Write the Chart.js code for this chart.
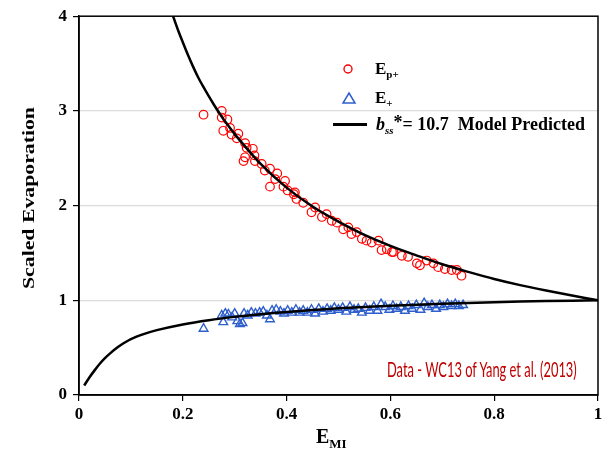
<!DOCTYPE html>
<html>
<head>
<meta charset="utf-8">
<script src="https://cdn.jsdelivr.net/npm/chart.js@4/dist/chart.umd.min.js"></script>
<style>
  html, body { margin: 0; padding: 0; background: #fff; }
  #wrap { position: relative; width: 609px; height: 458px; overflow: hidden; }
  canvas { position: absolute; left: 0; top: 0; }
  .serif { font-family: "Liberation Serif", "DejaVu Serif", serif; font-weight: bold; color: #000; }
  .abs { position: absolute; white-space: nowrap; }
</style>
</head>
<body>
<div id="wrap">
  <canvas id="c" width="609" height="458"></canvas>
  <div class="abs serif" id="ytitle" style="left:29px; top:198px; font-size:17px; transform: translate(-50%,-50%) rotate(-90deg) scaleX(1.28);">Scaled Evaporation</div>
  <div class="abs serif" style="left:316px; top:425px; font-size:20px;">E<span style="font-size:13px; position:relative; top:5px;">MI</span></div>
  <div class="abs serif" style="left:341px; top:59px; font-size:17px; line-height:20px;">
    <svg width="14" height="14" style="position:absolute; left:0px; top:3px;"><circle cx="7" cy="7" r="4" fill="none" stroke="#ff0000" stroke-width="1.4"/></svg>
    <span class="abs" style="left:34px; top:0px;">E<span style="font-size:11px; position:relative; top:4px;">p+</span></span>
  </div>
  <div class="abs serif" style="left:341px; top:88px; font-size:17px; line-height:20px;">
    <svg width="16" height="14" style="position:absolute; left:0px; top:3px;"><polygon points="8,2 14,12 2,12" fill="none" stroke="#2f5fcc" stroke-width="1.5"/></svg>
    <span class="abs" style="left:34px; top:0px;">E<span style="font-size:11px; position:relative; top:4px;">+</span></span>
  </div>
  <div class="abs serif" style="left:333px; top:114px; font-size:18px; line-height:20px;">
    <div class="abs" style="left:0px; top:9px; width:34px; height:2.5px; background:#000;"></div>
    <span class="abs" style="left:43px; top:0px;"><i>b<span style="font-size:11px; position:relative; top:4px;">ss</span></i><span style="position:relative; top:-2px;">*</span>= 10.7&nbsp; Model Predicted</span>
  </div>
  <div class="abs" id="note" style="left:387px; top:356px; font-family: Lato, 'Open Sans', sans-serif; font-size:21px; color:#c00000; transform-origin: 0 50%;">Data - WC13 of Yang et al. (2013)</div>
</div>
<script>
// ---- data ----
const xTickLabels = ['0', '0.2', '0.4', '0.6', '0.8', '1'];
const yTickLabels = ['0', '1', '2', '3', '4'];

const epX = [0.240,0.275,0.275,0.286,0.278,0.291,0.294,0.307,0.304,0.320,0.323,0.335,0.317,0.320,0.338,0.339,0.352,0.358,0.368,0.382,0.368,0.378,0.397,0.394,0.402,0.414,0.419,
  0.416,0.432,0.448,0.455,0.468,0.477,0.487,0.497,0.509,0.519,0.525,0.535,0.545,0.554,0.564,0.577,0.583,0.593,0.603,
  0.606,0.622,0.634,0.651,0.657,0.670,0.683,0.692,0.705,0.718,0.728,0.737];
const epY = [2.96,3.00,2.93,2.91,2.79,2.82,2.75,2.76,2.71,2.66,2.61,2.60,2.47,2.51,2.53,2.47,2.44,2.37,2.39,2.34,2.20,2.28,2.26,2.20,2.16,2.12,2.07,
  2.14,2.03,1.93,1.98,1.88,1.91,1.84,1.82,1.75,1.77,1.70,1.72,1.65,1.63,1.61,1.63,1.53,1.54,1.51,
  1.51,1.47,1.46,1.39,1.37,1.42,1.39,1.35,1.33,1.32,1.32,1.26];

const eX = [0.240,0.275,0.278,0.282,0.288,0.295,0.300,0.305,0.310,0.315,0.318,0.325,0.332,0.340,0.348,0.355,0.362,0.368,0.372,0.380,0.388,0.395,0.402,0.410,0.418,0.425,0.432,0.440,0.448,0.455,0.462,0.470,0.478,0.485,0.492,0.500,0.508,0.515,0.522,0.530,0.538,0.545,0.552,0.560,0.568,0.575,0.582,0.590,0.598,0.605,0.612,0.620,0.628,0.635,0.642,0.650,0.658,0.665,0.672,0.680,0.688,0.695,0.702,0.710,0.718,0.725,0.732,0.740];
const eY = [0.70,0.84,0.77,0.86,0.85,0.82,0.86,0.78,0.75,0.76,0.86,0.84,0.87,0.86,0.87,0.88,0.84,0.80,0.89,0.90,0.88,0.86,0.89,0.87,0.90,0.87,0.89,0.87,0.90,0.86,0.91,0.88,0.91,0.89,0.92,0.90,0.92,0.88,0.93,0.90,0.91,0.87,0.92,0.89,0.93,0.89,0.96,0.93,0.90,0.94,0.91,0.93,0.89,0.94,0.91,0.95,0.90,0.97,0.93,0.95,0.91,0.95,0.93,0.96,0.94,0.96,0.94,0.95];

const upX = [0.18,0.19,0.20,0.21,0.22,0.23,0.24,0.25,0.26,0.27,0.28,0.30,0.35,0.40,0.45,0.50,0.55,0.60,0.65,0.70,0.75,0.80,0.85,0.90,0.95,1.00];
const upY = [4.02,3.865,3.725,3.59,3.465,3.35,3.25,3.155,3.065,2.98,2.90,2.755,2.44,2.19,1.99,1.83,1.69,1.575,1.475,1.38,1.30,1.225,1.16,1.103,1.05,1.00];

const loX = [0.01,0.02,0.03,0.04,0.05,0.06,0.07,0.08,0.09,0.10,0.12,0.15,0.20,0.25,0.30,0.35,0.40,0.45,0.50,0.60,0.70,0.80,0.90,1.00];
const loY = [0.10,0.185,0.26,0.33,0.39,0.44,0.485,0.525,0.56,0.59,0.635,0.685,0.745,0.79,0.825,0.853,0.877,0.897,0.915,0.943,0.964,0.98,0.992,1.00];

const pts = (xs, ys) => xs.map((x, i) => ({ x: x, y: ys[i] }));

const frame = {
  id: 'frame',
  afterDatasetsDraw(chart) {
    const a = chart.chartArea, c = chart.ctx;
    c.save();
    c.strokeStyle = '#000';
    c.lineWidth = 1.5;
    c.strokeRect(a.left, a.top, a.right - a.left, a.bottom - a.top);
    c.restore();
  }
};

const tickFont = { family: '"Liberation Serif", "DejaVu Serif", serif', size: 17, weight: 'bold' };

new Chart(document.getElementById('c'), {
  type: 'scatter',
  data: {
    datasets: [
      { label: 'Ep+', data: pts(epX, epY), pointStyle: 'circle', pointRadius: 4.3, borderColor: '#ff0000', backgroundColor: 'rgba(0,0,0,0)', borderWidth: 1.2, order: 3 },
      { label: 'E+', data: pts(eX, eY), pointStyle: 'triangle', pointRadius: 5, borderColor: '#2f5fcc', backgroundColor: 'rgba(0,0,0,0)', borderWidth: 1.4, order: 2 },
      { label: 'model up', data: pts(upX, upY), showLine: true, pointRadius: 0, borderColor: '#000', borderWidth: 2.5, tension: 0.3, order: 1 },
      { label: 'model low', data: pts(loX, loY), showLine: true, pointRadius: 0, borderColor: '#000', borderWidth: 2.5, tension: 0.3, order: 1 }
    ]
  },
  options: {
    responsive: false,
    animation: false,
    layout: { padding: { top: 16, right: 11, left: 0, bottom: 0 } },
    plugins: { legend: { display: false }, tooltip: { enabled: false } },
    scales: {
      x: {
        type: 'linear', min: 0, max: 1,
        afterFit(s) { s.height = 63; },
        border: { display: true, color: '#000', width: 1.5 },
        grid: { drawOnChartArea: false, tickColor: '#000', tickLength: 6, lineWidth: 1.2 },
        ticks: { stepSize: 0.2, color: '#000', font: tickFont, padding: 3, maxRotation: 0,
          callback: (v, i) => xTickLabels[i] }
      },
      y: {
        type: 'linear', min: 0, max: 4,
        afterFit(s) { s.width = 79; },
        border: { display: true, color: '#000', width: 1.5 },
        grid: {
          color: (ctx) => (ctx.tick && ctx.tick.value > 0 && ctx.tick.value < 4) ? '#dcdcdc' : 'rgba(0,0,0,0)',
          tickColor: '#000', tickLength: 6, lineWidth: 1.2
        },
        ticks: { stepSize: 1, color: '#000', font: tickFont, padding: 6,
          callback: (v, i) => yTickLabels[i] }
      }
    }
  },
  plugins: [frame]
});

// fit the annotation to the width it has in the reference
const note = document.getElementById('note');
note.style.transform = 'scaleX(' + (190 / note.offsetWidth).toFixed(3) + ')';
</script>
</body>
</html>
